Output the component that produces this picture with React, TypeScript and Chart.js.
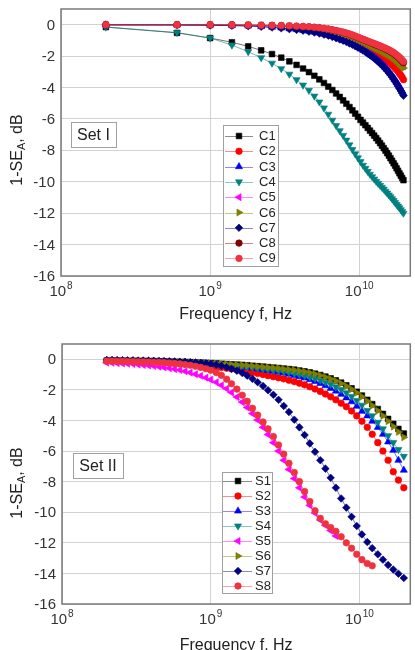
import React, { useEffect, useRef } from 'react';
import { Chart, registerables } from 'chart.js';

Chart.register(...registerables);

const FONT = '"Liberation Sans", Arial, sans-serif';

// ---------- Set I (frequency in GHz) ----------
const FREQ_SET1_GHZ = [0.2, 0.6, 1.0, 1.4, 1.8, 2.2, 2.6, 3.0, 3.4, 3.8, 4.2, 4.6, 5.0, 5.4, 5.8, 6.2, 6.6, 7.0, 7.4, 7.8, 8.2, 8.6, 9.0, 9.4, 9.8, 10.2, 10.6, 11.0, 11.4, 11.8, 12.2, 12.6, 13.0, 13.4, 13.8, 14.2, 14.6, 15.0, 15.4, 15.8, 16.2, 16.6, 17.0, 17.4, 17.8, 18.2, 18.6, 19.0, 19.4, 19.8];

const C1 = [-0.15, -0.52, -0.85, -1.12, -1.38, -1.63, -1.87, -2.1, -2.33, -2.56, -2.79, -3.02, -3.25, -3.48, -3.71, -3.94, -4.16, -4.38, -4.6, -4.82, -5.03, -5.24, -5.45, -5.66, -5.86, -6.06, -6.23, -6.4, -6.57, -6.74, -6.9, -7.06, -7.22, -7.38, -7.54, -7.7, -7.86, -8.02, -8.18, -8.34, -8.5, -8.66, -8.82, -8.98, -9.14, -9.3, -9.46, -9.61, -9.76, -9.9];
const C2 = [0, 0, -0.01, -0.03, -0.05, -0.07, -0.09, -0.12, -0.15, -0.18, -0.21, -0.25, -0.29, -0.34, -0.39, -0.45, -0.51, -0.58, -0.65, -0.72, -0.8, -0.88, -0.96, -1.05, -1.14, -1.23, -1.32, -1.41, -1.5, -1.58, -1.66, -1.74, -1.82, -1.9, -1.98, -2.06, -2.14, -2.22, -2.3, -2.38, -2.47, -2.56, -2.66, -2.76, -2.87, -2.98, -3.1, -3.22, -3.35, -3.5];
const C3 = [-0.01, -0.02, -0.03, -0.05, -0.08, -0.12, -0.16, -0.21, -0.26, -0.31, -0.36, -0.42, -0.47, -0.53, -0.6, -0.67, -0.74, -0.82, -0.9, -0.98, -1.06, -1.14, -1.23, -1.32, -1.41, -1.5, -1.59, -1.68, -1.78, -1.88, -1.97, -2.07, -2.17, -2.28, -2.38, -2.49, -2.6, -2.72, -2.84, -2.96, -3.09, -3.22, -3.36, -3.5, -3.64, -3.78, -3.93, -4.08, -4.23, -4.38];
const C4 = [-0.15, -0.5, -0.85, -1.3, -1.72, -2.1, -2.45, -2.8, -3.15, -3.5, -3.85, -4.18, -4.55, -4.92, -5.3, -5.7, -6.08, -6.42, -6.75, -7.05, -7.35, -7.65, -7.95, -8.22, -8.48, -8.72, -8.95, -9.15, -9.34, -9.52, -9.68, -9.83, -9.97, -10.1, -10.23, -10.35, -10.47, -10.6, -10.72, -10.84, -10.96, -11.08, -11.2, -11.32, -11.44, -11.55, -11.66, -11.78, -11.89, -12.0];
const C5 = [0, 0, -0.01, -0.02, -0.03, -0.04, -0.06, -0.08, -0.1, -0.13, -0.16, -0.19, -0.22, -0.26, -0.3, -0.35, -0.4, -0.45, -0.51, -0.57, -0.63, -0.7, -0.77, -0.84, -0.91, -0.99, -1.06, -1.13, -1.2, -1.27, -1.33, -1.39, -1.45, -1.51, -1.57, -1.63, -1.69, -1.75, -1.81, -1.87, -1.93, -2.0, -2.07, -2.14, -2.22, -2.3, -2.39, -2.48, -2.57, -2.66];
const C6 = [0, 0, -0.01, -0.02, -0.03, -0.05, -0.07, -0.09, -0.11, -0.14, -0.17, -0.2, -0.24, -0.28, -0.32, -0.37, -0.42, -0.48, -0.54, -0.6, -0.67, -0.74, -0.81, -0.88, -0.96, -1.04, -1.11, -1.18, -1.25, -1.32, -1.39, -1.45, -1.51, -1.57, -1.63, -1.69, -1.75, -1.81, -1.87, -1.93, -2.0, -2.07, -2.14, -2.22, -2.3, -2.39, -2.48, -2.57, -2.66, -2.76];
const C7 = [-0.01, -0.02, -0.04, -0.06, -0.09, -0.13, -0.18, -0.23, -0.28, -0.33, -0.38, -0.44, -0.5, -0.56, -0.63, -0.7, -0.78, -0.86, -0.94, -1.02, -1.1, -1.19, -1.28, -1.37, -1.46, -1.55, -1.64, -1.74, -1.84, -1.94, -2.04, -2.14, -2.25, -2.36, -2.47, -2.58, -2.7, -2.82, -2.94, -3.07, -3.2, -3.34, -3.48, -3.62, -3.77, -3.92, -4.07, -4.22, -4.37, -4.52];
const C8 = [0, 0, -0.01, -0.01, -0.02, -0.03, -0.04, -0.06, -0.08, -0.1, -0.12, -0.14, -0.17, -0.2, -0.24, -0.28, -0.33, -0.38, -0.44, -0.49, -0.55, -0.61, -0.68, -0.75, -0.82, -0.89, -0.95, -1.01, -1.07, -1.13, -1.18, -1.24, -1.29, -1.34, -1.39, -1.44, -1.49, -1.55, -1.6, -1.65, -1.71, -1.77, -1.84, -1.91, -1.98, -2.06, -2.14, -2.23, -2.32, -2.42];
const C9 = [0, 0, 0, -0.01, -0.02, -0.03, -0.04, -0.05, -0.07, -0.09, -0.11, -0.13, -0.16, -0.19, -0.23, -0.27, -0.32, -0.37, -0.42, -0.47, -0.53, -0.59, -0.65, -0.72, -0.79, -0.86, -0.92, -0.98, -1.04, -1.1, -1.15, -1.2, -1.25, -1.3, -1.35, -1.4, -1.45, -1.5, -1.55, -1.6, -1.66, -1.72, -1.78, -1.85, -1.92, -2.0, -2.08, -2.16, -2.25, -2.35];

// ---------- Set II (frequency in GHz) ----------
const FREQ_SET2_GHZ = [0.2, 0.217, 0.235, 0.255, 0.276, 0.3, 0.325, 0.352, 0.382, 0.414, 0.449, 0.486, 0.527, 0.572, 0.62, 0.672, 0.728, 0.79, 0.856, 0.928, 1.0, 1.09, 1.18, 1.28, 1.38, 1.5, 1.63, 1.76, 1.91, 2.07, 2.25, 2.43, 2.64, 2.86, 3.1, 3.36, 3.65, 3.95, 4.28, 4.64, 5.03, 5.46, 5.91, 6.41, 6.95, 7.54, 8.17, 8.86, 9.6, 10.4, 11.3, 12.2, 13.3, 14.4, 15.6, 16.9, 18.3, 19.9];

const S1 = [-0.08, -0.08, -0.09, -0.09, -0.1, -0.1, -0.11, -0.11, -0.12, -0.12, -0.13, -0.14, -0.15, -0.16, -0.17, -0.18, -0.19, -0.21, -0.22, -0.24, -0.25, -0.27, -0.29, -0.31, -0.33, -0.35, -0.37, -0.39, -0.42, -0.45, -0.48, -0.51, -0.54, -0.57, -0.6, -0.64, -0.68, -0.73, -0.79, -0.86, -0.94, -1.03, -1.13, -1.25, -1.38, -1.53, -1.7, -1.9, -2.12, -2.37, -2.65, -2.93, -3.25, -3.57, -3.9, -4.22, -4.55, -4.85];
const S2 = [-0.1, -0.11, -0.12, -0.13, -0.14, -0.15, -0.16, -0.17, -0.18, -0.2, -0.21, -0.23, -0.25, -0.27, -0.29, -0.31, -0.34, -0.37, -0.4, -0.43, -0.46, -0.5, -0.54, -0.58, -0.63, -0.68, -0.74, -0.8, -0.86, -0.93, -1.0, -1.07, -1.14, -1.21, -1.28, -1.37, -1.46, -1.56, -1.67, -1.8, -1.94, -2.1, -2.27, -2.45, -2.65, -2.87, -3.1, -3.38, -3.7, -4.05, -4.45, -4.9, -5.45, -6.0, -6.6, -7.35, -7.9, -8.4];
const S3 = [-0.08, -0.09, -0.09, -0.1, -0.11, -0.11, -0.12, -0.13, -0.14, -0.15, -0.16, -0.17, -0.18, -0.19, -0.21, -0.22, -0.24, -0.26, -0.28, -0.3, -0.32, -0.35, -0.37, -0.4, -0.43, -0.47, -0.5, -0.54, -0.58, -0.63, -0.68, -0.73, -0.78, -0.84, -0.9, -0.97, -1.05, -1.13, -1.22, -1.33, -1.45, -1.58, -1.73, -1.9, -2.08, -2.29, -2.52, -2.78, -3.07, -3.4, -3.7, -4.05, -4.45, -4.9, -5.4, -5.95, -6.6, -7.25];
const S4 = [-0.08, -0.08, -0.09, -0.1, -0.1, -0.11, -0.12, -0.12, -0.13, -0.14, -0.15, -0.16, -0.17, -0.18, -0.19, -0.21, -0.22, -0.24, -0.26, -0.28, -0.3, -0.32, -0.34, -0.37, -0.4, -0.43, -0.46, -0.49, -0.53, -0.57, -0.61, -0.65, -0.7, -0.75, -0.8, -0.86, -0.92, -0.99, -1.07, -1.16, -1.26, -1.37, -1.5, -1.64, -1.8, -1.98, -2.19, -2.43, -2.7, -3.0, -3.35, -3.7, -4.12, -4.55, -5.0, -5.45, -5.9, -6.35];
const S5 = [-0.22, -0.23, -0.25, -0.27, -0.29, -0.31, -0.34, -0.37, -0.4, -0.44, -0.48, -0.53, -0.58, -0.64, -0.7, -0.78, -0.87, -0.97, -1.08, -1.2, -1.33, -1.5, -1.7, -1.92, -2.17, -2.47, -2.8, -3.15, -3.55, -3.97, -4.45, -4.92, -5.45, -6.0, -6.6, -7.2, -7.8, -8.4, -9.0, -9.55, -10.05, -10.5, -10.85, -11.2, -11.55];
const S6 = [-0.08, -0.08, -0.09, -0.09, -0.1, -0.1, -0.11, -0.11, -0.12, -0.12, -0.13, -0.14, -0.15, -0.16, -0.17, -0.18, -0.2, -0.21, -0.23, -0.24, -0.26, -0.28, -0.3, -0.32, -0.34, -0.36, -0.38, -0.41, -0.44, -0.47, -0.5, -0.53, -0.56, -0.59, -0.63, -0.67, -0.71, -0.76, -0.82, -0.89, -0.97, -1.06, -1.17, -1.29, -1.42, -1.58, -1.76, -1.96, -2.19, -2.45, -2.74, -3.03, -3.37, -3.7, -4.05, -4.4, -4.75, -5.1];
const S7 = [-0.05, -0.05, -0.06, -0.06, -0.07, -0.07, -0.08, -0.08, -0.09, -0.1, -0.11, -0.12, -0.13, -0.14, -0.16, -0.17, -0.19, -0.21, -0.24, -0.27, -0.3, -0.36, -0.43, -0.52, -0.62, -0.75, -0.9, -1.07, -1.28, -1.5, -1.75, -2.02, -2.32, -2.65, -3.05, -3.45, -3.95, -4.45, -4.95, -5.5, -6.05, -6.6, -7.15, -7.75, -8.4, -9.1, -9.7, -10.3, -10.9, -11.45, -11.95, -12.35, -12.75, -13.1, -13.45, -13.75, -14.02, -14.3];
const S8 = [-0.12, -0.12, -0.13, -0.13, -0.14, -0.15, -0.16, -0.17, -0.18, -0.19, -0.2, -0.22, -0.24, -0.27, -0.3, -0.34, -0.39, -0.45, -0.53, -0.62, -0.72, -0.87, -1.05, -1.3, -1.6, -1.95, -2.35, -2.75, -3.2, -3.65, -4.1, -4.55, -5.05, -5.6, -6.2, -6.8, -7.4, -8.0, -8.65, -9.3, -9.9, -10.4, -10.75, -11.0, -11.25, -11.6, -12.0, -12.35, -12.75, -13.1, -13.35, -13.5];

// ---------- Axes ----------
const Y_TICKS = [0, -2, -4, -6, -8, -10, -12, -14, -16];
const X_TICKS = [1e8, 1e9, 1e10];
const X_TICK_EXPONENTS = ['8', '9', '10'];
const X_MIN = 1e8;
const X_MAX = 2.2e10;
const Y_MIN = -16;
const Y_MAX = 1;
const X_TITLE = 'Frequency f, Hz';

// ---------- Styles ----------
type Marker = { style: string; rotation: number; radius: number };
const MK: Record<string, Marker> = {
  square: { style: 'rect', rotation: 0, radius: 4.0 },
  circle: { style: 'circle', rotation: 0, radius: 3.3 },
  up: { style: 'triangle', rotation: 0, radius: 4.1 },
  down: { style: 'triangle', rotation: 180, radius: 4.1 },
  left: { style: 'triangle', rotation: 270, radius: 4.1 },
  right: { style: 'triangle', rotation: 90, radius: 4.1 },
  diamond: { style: 'rectRot', rotation: 0, radius: 3.8 },
};

type Series = { label: string; values: number[]; color: string; marker: Marker };

const SET1: Series[] = [
  { label: 'C1', values: C1, color: '#000000', marker: MK.square },
  { label: 'C2', values: C2, color: '#ff0000', marker: MK.circle },
  { label: 'C3', values: C3, color: '#0000ff', marker: MK.up },
  { label: 'C4', values: C4, color: '#008080', marker: MK.down },
  { label: 'C5', values: C5, color: '#ff00ff', marker: MK.left },
  { label: 'C6', values: C6, color: '#808000', marker: MK.right },
  { label: 'C7', values: C7, color: '#000080', marker: MK.diamond },
  { label: 'C8', values: C8, color: '#800000', marker: MK.circle },
  { label: 'C9', values: C9, color: '#ee3340', marker: MK.circle },
];

const SET2: Series[] = [
  { label: 'S1', values: S1, color: '#000000', marker: MK.square },
  { label: 'S2', values: S2, color: '#ff0000', marker: MK.circle },
  { label: 'S3', values: S3, color: '#0000ff', marker: MK.up },
  { label: 'S4', values: S4, color: '#008080', marker: MK.down },
  { label: 'S5', values: S5, color: '#ff00ff', marker: MK.left },
  { label: 'S6', values: S6, color: '#808000', marker: MK.right },
  { label: 'S7', values: S7, color: '#000080', marker: MK.diamond },
  { label: 'S8', values: S8, color: '#ee3340', marker: MK.circle },
];

type Panel = {
  freq: number[];
  series: Series[];
  height: number;
  padTop: number;
  yAxisWidth: number;
  xAxisHeight: number;
  setLabel: string;
  setBox: [number, number, number, number];
  legendBox: [number, number, number, number];
  rowY0: number;
  rowDy: number;
  lineX1: number;
  lineX2: number;
  markerX: number;
  textX: number;
  xTitleY: number;
  yTitleX: number;
  yTitleY: number;
};

const TOP_PANEL: Panel = {
  freq: FREQ_SET1_GHZ, series: SET1, height: 325, padTop: 9, yAxisWidth: 61, xAxisHeight: 49,
  setLabel: 'Set I', setBox: [71, 122, 45, 25], legendBox: [223, 125, 55, 141],
  rowY0: 136, rowDy: 15.3, lineX1: 225, lineX2: 253, markerX: 239, textX: 259,
  xTitleY: 315, yTitleX: 18, yTitleY: 150,
};

const BOTTOM_PANEL: Panel = {
  freq: FREQ_SET2_GHZ, series: SET2, height: 325, padTop: 19, yAxisWidth: 62, xAxisHeight: 46,
  setLabel: 'Set II', setBox: [73, 128, 50, 25], legendBox: [222, 147, 50, 121],
  rowY0: 156, rowDy: 15, lineX1: 223, lineX2: 252, markerX: 238, textX: 255,
  xTitleY: 321, yTitleX: 18, yTitleY: 158,
};

function withAlpha(hex: string, a: number) {
  const n = parseInt(hex.slice(1), 16);
  return `rgba(${(n >> 16) & 255},${(n >> 8) & 255},${n & 255},${a})`;
}

function drawMarker(ctx: CanvasRenderingContext2D, m: Marker, x: number, y: number, color: string) {
  ctx.save();
  ctx.fillStyle = color;
  ctx.strokeStyle = color;
  ctx.lineWidth = 0.6;
  ctx.beginPath();
  const r = m.radius;
  const rad = (m.rotation * Math.PI) / 180;
  if (m.style === 'circle') {
    ctx.arc(x, y, r, 0, Math.PI * 2);
  } else if (m.style === 'rect') {
    const s = r * Math.SQRT1_2;
    ctx.rect(x - s, y - s, 2 * s, 2 * s);
  } else if (m.style === 'rectRot') {
    ctx.moveTo(x - r, y);
    ctx.lineTo(x, y - r);
    ctx.lineTo(x + r, y);
    ctx.lineTo(x, y + r);
    ctx.closePath();
  } else {
    for (let i = 0; i < 3; i++) {
      const a = rad + (i * 2 * Math.PI) / 3;
      const px = x + Math.sin(a) * r;
      const py = y - Math.cos(a) * r;
      if (i === 0) ctx.moveTo(px, py);
      else ctx.lineTo(px, py);
    }
    ctx.closePath();
  }
  ctx.fill();
  ctx.stroke();
  ctx.restore();
}

function makeDeco(p: Panel) {
  return {
    id: 'deco',
    afterDatasetsDraw(chart: any) {
      const ctx: CanvasRenderingContext2D = chart.ctx;
      const a = chart.chartArea;
      const xs = chart.scales.x;
      const ys = chart.scales.y;
      ctx.save();
      // frame
      ctx.strokeStyle = '#7a7a7a';
      ctx.lineWidth = 1.5;
      ctx.strokeRect(a.left, a.top, a.right - a.left, a.bottom - a.top);

      // set label box
      const [sx, sy, sw, sh] = p.setBox;
      ctx.fillStyle = '#ffffff';
      ctx.fillRect(sx, sy, sw, sh);
      ctx.strokeStyle = '#a0a0a0';
      ctx.lineWidth = 1;
      ctx.strokeRect(sx + 0.5, sy + 0.5, sw, sh);
      ctx.fillStyle = '#222';
      ctx.font = `16px ${FONT}`;
      ctx.textAlign = 'center';
      ctx.textBaseline = 'middle';
      ctx.fillText(p.setLabel, sx + sw / 2, sy + sh / 2 + 1);

      // legend
      const [lx, ly, lw, lh] = p.legendBox;
      ctx.fillStyle = '#ffffff';
      ctx.fillRect(lx, ly, lw, lh);
      ctx.strokeStyle = '#a0a0a0';
      ctx.strokeRect(lx + 0.5, ly + 0.5, lw, lh);
      p.series.forEach((s, i) => {
        const y = p.rowY0 + i * p.rowDy;
        ctx.strokeStyle = withAlpha(s.color, 0.45);
        ctx.lineWidth = 1;
        ctx.beginPath();
        ctx.moveTo(p.lineX1, Math.round(y) + 0.5);
        ctx.lineTo(p.lineX2, Math.round(y) + 0.5);
        ctx.stroke();
        drawMarker(ctx, s.marker, p.markerX, y, s.color);
        ctx.fillStyle = '#222';
        ctx.font = `13px ${FONT}`;
        ctx.textAlign = 'left';
        ctx.textBaseline = 'middle';
        ctx.fillText(s.label, p.textX, y + 0.5);
      });

      // y tick labels
      ctx.fillStyle = '#333';
      ctx.font = `15px ${FONT}`;
      ctx.textAlign = 'right';
      ctx.textBaseline = 'middle';
      Y_TICKS.forEach((v) => {
        ctx.fillText(String(v), a.left - 6, ys.getPixelForValue(v) + 1);
      });

      // x tick labels (10 with superscript exponent)
      ctx.textAlign = 'left';
      ctx.textBaseline = 'alphabetic';
      X_TICKS.forEach((v, i) => {
        const x = xs.getPixelForValue(v);
        ctx.font = `15px ${FONT}`;
        const w1 = ctx.measureText('10').width;
        ctx.font = `10px ${FONT}`;
        const w2 = ctx.measureText(X_TICK_EXPONENTS[i]).width;
        const start = x - (w1 + w2 + 1) / 2;
        ctx.font = `15px ${FONT}`;
        ctx.fillText('10', start, a.bottom + 20);
        ctx.font = `10px ${FONT}`;
        ctx.fillText(X_TICK_EXPONENTS[i], start + w1 + 1, a.bottom + 13);
      });

      // x title
      ctx.fillStyle = '#222';
      ctx.font = `16px ${FONT}`;
      ctx.textAlign = 'center';
      ctx.textBaseline = 'middle';
      ctx.fillText(X_TITLE, (a.left + a.right) / 2, p.xTitleY);

      // y title: 1-SE_A, dB
      ctx.translate(p.yTitleX, p.yTitleY);
      ctx.rotate(-Math.PI / 2);
      ctx.textAlign = 'left';
      ctx.textBaseline = 'middle';
      const big = `16px ${FONT}`;
      const small = `11px ${FONT}`;
      ctx.font = big;
      const t1 = '1-SE';
      const t3 = ', dB';
      const w1 = ctx.measureText(t1).width;
      const w3 = ctx.measureText(t3).width;
      ctx.font = small;
      const w2 = ctx.measureText('A').width;
      let cx = -(w1 + w2 + w3) / 2;
      ctx.font = big;
      ctx.fillText(t1, cx, 0);
      cx += w1;
      ctx.font = small;
      ctx.fillText('A', cx, 4);
      cx += w2;
      ctx.font = big;
      ctx.fillText(t3, cx, 0);
      ctx.restore();
    },
  };
}

function ChartPanel({ panel }: { panel: Panel }) {
  const ref = useRef<HTMLCanvasElement | null>(null);
  useEffect(() => {
    const canvas = ref.current;
    if (!canvas) return;
    const n = panel.series.length;
    const datasets = panel.series.map((s, i) => ({
      label: s.label,
      data: s.values.map((v, j) => ({ x: panel.freq[j] * 1e9, y: v })),
      borderColor: withAlpha(s.color, 0.55),
      backgroundColor: s.color,
      borderWidth: 1,
      tension: 0,
      pointStyle: s.marker.style as any,
      pointRotation: s.marker.rotation,
      pointRadius: s.marker.radius,
      pointBackgroundColor: s.color,
      pointBorderColor: s.color,
      pointBorderWidth: 0.6,
      order: n - i,
    }));
    const grid = { color: '#d2d2d2', lineWidth: 1, drawTicks: false };
    const chart = new Chart(canvas, {
      type: 'line',
      data: { datasets },
      options: {
        animation: false,
        responsive: true,
        maintainAspectRatio: false,
        events: [],
        layout: { padding: { top: panel.padTop, right: 1, left: 0, bottom: 0 } },
        plugins: { legend: { display: false }, tooltip: { enabled: false } },
        scales: {
          x: {
            type: 'logarithmic',
            min: X_MIN,
            max: X_MAX,
            ticks: { display: false },
            grid,
            border: { display: false },
            afterBuildTicks: (s: any) => {
              s.ticks = X_TICKS.map((v) => ({ value: v }));
            },
            afterFit: (s: any) => {
              s.height = panel.xAxisHeight;
            },
          },
          y: {
            type: 'linear',
            min: Y_MIN,
            max: Y_MAX,
            ticks: { display: false },
            grid,
            border: { display: false },
            afterBuildTicks: (s: any) => {
              s.ticks = Y_TICKS.map((v) => ({ value: v }));
            },
            afterFit: (s: any) => {
              s.width = panel.yAxisWidth;
            },
          },
        },
      } as any,
      plugins: [makeDeco(panel)],
    });
    return () => chart.destroy();
  }, [panel]);
  return (
    <div style={{ position: 'relative', width: 415, height: panel.height }}>
      <canvas ref={ref} />
    </div>
  );
}

export default function App() {
  return (
    <div style={{ position: 'absolute', left: 0, top: 0, width: 415, height: 650, background: '#ffffff', overflow: 'hidden' }}>
      <ChartPanel panel={TOP_PANEL} />
      <ChartPanel panel={BOTTOM_PANEL} />
    </div>
  );
}
